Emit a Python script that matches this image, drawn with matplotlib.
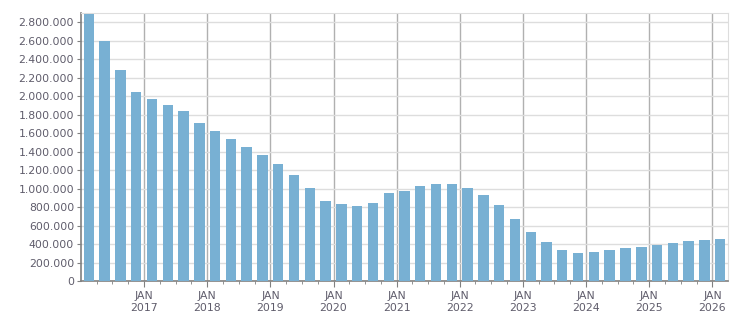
import pandas as pd
import matplotlib
matplotlib.use("Agg")
import matplotlib.pyplot as plt
import matplotlib.dates as mdates
from matplotlib.ticker import FuncFormatter, MultipleLocator

# Quarterly values, Q1 2016 .. Q1 2026
quarters = pd.period_range("2016Q1", "2026Q1", freq="Q")
values = [
    2890000, 2598000, 2284000, 2046000,   # 2016
    1970000, 1906000, 1840000, 1710000,   # 2017
    1620000, 1535000, 1450000, 1365000,   # 2018
    1268000, 1149000, 1009000, 868000,    # 2019
    836000, 814000, 846000, 955000,       # 2020
    976000, 1030000, 1052000, 1052000,    # 2021
    1009000, 933000, 825000, 673000,      # 2022
    533000, 425000, 338000, 306000,       # 2023
    317000, 338000, 360000, 371000,       # 2024
    392000, 414000, 436000, 446000,       # 2025
    457000,                               # 2026
]
label_years = list(range(2017, 2027))

bar_color = "#78b0d3"
text_color = "#5f5c6b"

fig = plt.figure(figsize=(7.51, 3.13), dpi=100)
ax = fig.add_axes([81 / 751, 32 / 313, 647 / 751, 268 / 313])

starts = quarters.start_time
ends = quarters.end_time
centers = mdates.date2num(starts + (ends - starts) / 2)
ax.bar(centers, values, width=60, color=bar_color, zorder=3)

ax.set_xlim(mdates.date2num(pd.Timestamp("2016-01-01")),
            mdates.date2num(pd.Timestamp("2026-04-01")))
ax.set_ylim(0, 2900000)

# x axis: years as major ticks, quarters as minor ticks
major = [mdates.date2num(pd.Timestamp(f"{y}-01-01")) for y in label_years]
ax.set_xticks(major)
ax.set_xticklabels([f"JAN\n{y}" for y in label_years])
minor = mdates.date2num(pd.date_range("2016-04-01", "2026-03-31", freq="QS"))
ax.set_xticks(minor, minor=True)

ax.yaxis.set_major_locator(MultipleLocator(200000))
ax.yaxis.set_major_formatter(FuncFormatter(lambda v, p: f"{int(v):,}".replace(",", ".")))

ax.grid(axis="y", color="#dddddd", linewidth=1, zorder=0)
ax.grid(axis="x", which="major", color="#b0b0b0", linewidth=1, zorder=1)

for side in ("top", "right"):
    ax.spines[side].set_color("#dddddd")
for side in ("left", "bottom"):
    ax.spines[side].set_color("#808080")
    ax.spines[side].set_linewidth(1.2)

ax.tick_params(axis="x", which="major", length=4, color="#808080", pad=3,
               labelsize=7.8, labelcolor=text_color)
ax.tick_params(axis="x", which="minor", length=2.5, color="#808080")
ax.tick_params(axis="y", length=3, color="#808080", pad=2,
               labelsize=7.8, labelcolor=text_color)
for lbl in ax.get_xticklabels():
    lbl.set_linespacing(1.3)

fig.savefig("out.png", dpi=100)
